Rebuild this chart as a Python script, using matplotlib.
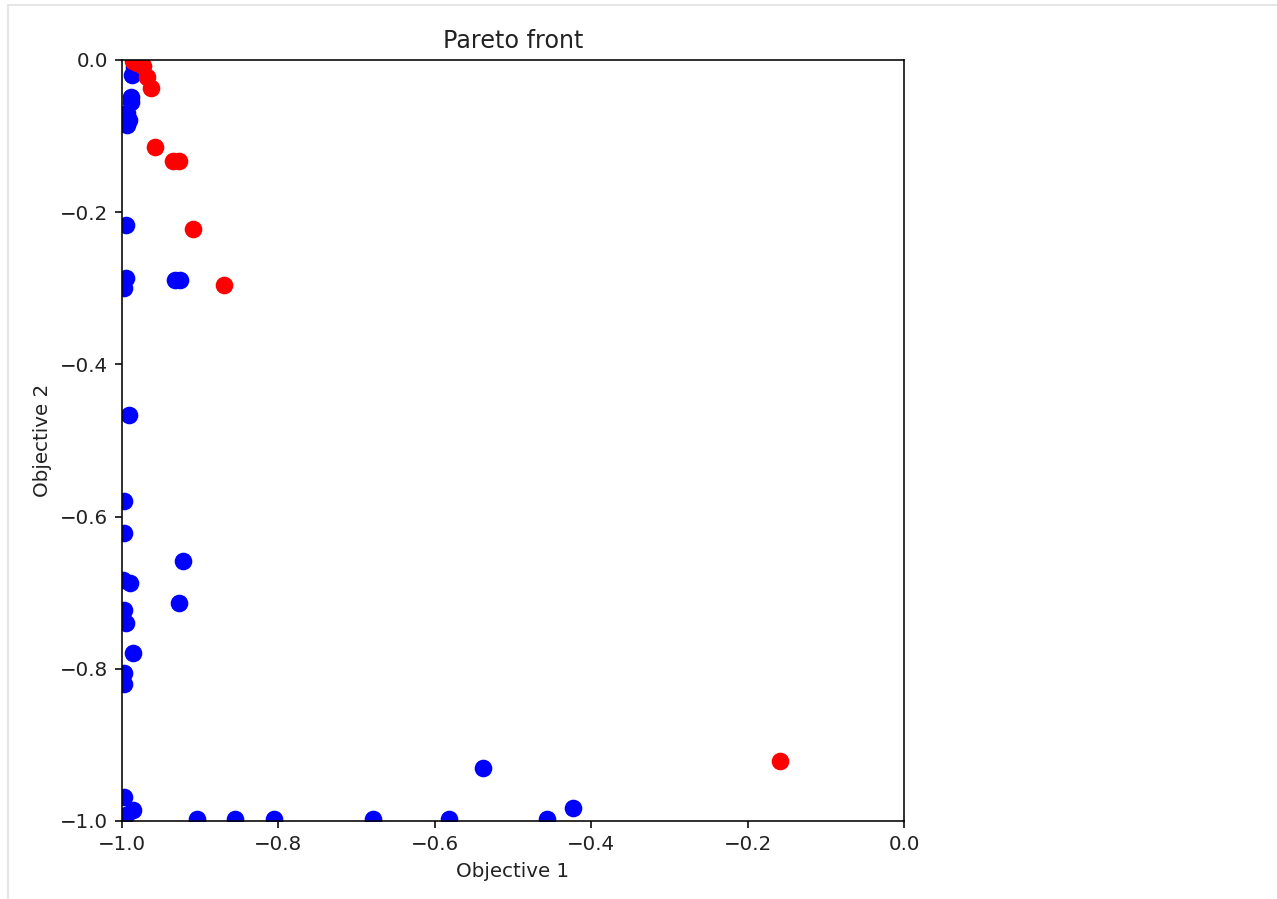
import matplotlib
matplotlib.use("Agg")
import matplotlib.pyplot as plt
from matplotlib.lines import Line2D

# pareto points
blue_x = [-0.985, -0.987, -0.988, -0.988, -0.994, -0.991, -0.994, -0.995, -0.995, -0.997,
          -0.932, -0.926, -0.991, -0.997, -0.997, -0.922, -0.999, -0.990, -0.927, -0.997,
          -0.995, -0.986, -0.997, -0.997, -0.997, -0.986, -0.995, -0.904, -0.855, -0.806,
          -0.679, -0.582, -0.457, -0.423, -0.538]
blue_y = [-0.009, -0.020, -0.049, -0.055, -0.070, -0.079, -0.085, -0.217, -0.286, -0.300,
          -0.289, -0.289, -0.466, -0.579, -0.622, -0.658, -0.683, -0.687, -0.714, -0.723,
          -0.740, -0.779, -0.806, -0.820, -0.968, -0.986, -0.992, -0.997, -0.997, -0.997,
          -0.997, -0.997, -0.997, -0.983, -0.930]

red_x = [-0.986, -0.981, -0.973, -0.968, -0.963, -0.958, -0.935, -0.927, -0.909, -0.870, -0.159]
red_y = [-0.001, -0.004, -0.008, -0.022, -0.037, -0.114, -0.133, -0.133, -0.222, -0.296, -0.921]

dpi = 143
fig = plt.figure(figsize=(1277 / dpi, 899 / dpi), dpi=dpi)
ax = fig.add_axes([122 / 1277, 1 - 821 / 899, 782 / 1277, 761 / 899])

ax.scatter(blue_x, blue_y, c='blue', s=62)
ax.scatter(red_x, red_y, c='red', s=62)

ax.set_xlim(-1, 0)
ax.set_ylim(-1, 0)
ax.set_xlabel('Objective 1', color='#222222')
ax.set_ylabel('Objective 2', color='#222222')
ax.set_title('Pareto front', color='#222222')
ax.tick_params(labelcolor='#222222')

# notebook cell frame
fig.add_artist(Line2D([8 / 1277, 1], [1 - 5 / 899, 1 - 5 / 899], color='#e0e0e0', lw=0.8))
fig.add_artist(Line2D([8 / 1277, 8 / 1277], [0, 1 - 5 / 899], color='#e0e0e0', lw=0.8))

fig.savefig('out.png', dpi=dpi)
